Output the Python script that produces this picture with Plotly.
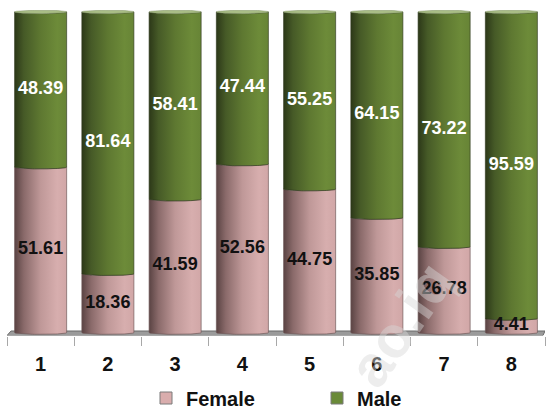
import numpy as np
import plotly.graph_objects as go

# Share of each sex (percent) for the eight groups
groups = ["1", "2", "3", "4", "5", "6", "7", "8"]
female = [51.61, 18.36, 41.59, 52.56, 44.75, 35.85, 26.78, 4.41]
male = [48.39, 81.64, 58.41, 47.44, 55.25, 64.15, 73.22, 95.59]

PINK_SCALE = [[0.0, "#5a4343"], [0.18, "#8a6a6a"], [0.5, "#bf9898"],
              [0.82, "#d7aeae"], [1.0, "#d1a7a7"]]
GREEN_SCALE = [[0.0, "#2c3818"], [0.18, "#465a27"], [0.5, "#5e7831"],
               [0.82, "#6d8b39"], [1.0, "#678436"]]
PINK_SOLID = "#d9adad"
GREEN_SOLID = "#6a8a38"

HALF = 0.387   # half width of a cylinder, in category units
EY = 0.55      # vertical radius of the cylinder rims, in percent units
theta = np.linspace(0, np.pi, 41)

fig = go.Figure()


def cylinder_slice(xc, y0, y1, scale, edge):
    """Front face of one slice of a cylinder between y0 and y1."""
    xt = xc - HALF * np.cos(theta)
    yt = y1 - EY * np.sin(theta)
    xb = xc + HALF * np.cos(theta)
    yb = y0 - EY * np.sin(theta)
    xs = np.concatenate([xt, xb, xt[:1]])
    ys = np.concatenate([yt, yb, yt[:1]])
    fig.add_trace(go.Scatter(
        x=xs, y=ys, mode="lines", fill="toself",
        fillgradient=dict(type="horizontal", colorscale=scale),
        line=dict(color=edge, width=0.8),
        hoverinfo="skip", showlegend=False))


def cylinder_cap(xc, y):
    t = np.linspace(0, 2 * np.pi, 81)
    fig.add_trace(go.Scatter(
        x=xc + HALF * np.cos(t), y=y + EY * np.sin(t), mode="lines",
        fill="toself", fillcolor="#a9bd86",
        line=dict(color="rgba(120,140,90,0.8)", width=0.6),
        hoverinfo="skip", showlegend=False))


xpos = list(range(len(groups)))
for i, (f, m) in enumerate(zip(female, male)):
    cylinder_slice(i, 0, f, PINK_SCALE, "rgba(110,88,88,0.85)")
    cylinder_slice(i, f, f + m, GREEN_SCALE, "rgba(45,55,28,0.8)")
    cylinder_cap(i, f + m)

# Value labels in the middle of each slice
fig.add_trace(go.Scatter(
    x=xpos, y=[f / 2 for f in female], mode="text",
    text=[f"{v:.2f}" for v in female],
    textfont=dict(family="Liberation Sans, Arial", size=18, color="#111111",
                  weight="bold"),
    hoverinfo="skip", showlegend=False))
fig.add_trace(go.Scatter(
    x=xpos, y=[f + m / 2 for f, m in zip(female, male)], mode="text",
    text=[f"{v:.2f}" for v in male],
    textfont=dict(family="Liberation Sans, Arial", size=18, color="white",
                  weight="bold"),
    hoverinfo="skip", showlegend=False))

# Legend entries
for name, col in (("Female", PINK_SOLID), ("Male", GREEN_SOLID)):
    fig.add_trace(go.Scatter(
        x=[None], y=[None], mode="markers", name=name,
        marker=dict(symbol="square", size=12, color=col,
                    line=dict(color="#7a7a7a", width=1))))

n = len(groups)
fig.update_layout(
    width=549, height=410,
    margin=dict(l=7, r=4, t=10, b=73),
    paper_bgcolor="white", plot_bgcolor="white",
    font=dict(family="Liberation Sans, Arial", color="#111111"),
    xaxis=dict(
        range=[-0.5, n - 0.5], tickvals=xpos, ticktext=groups,
        ticks="", showgrid=False, zeroline=False, showline=False,
        tickfont=dict(size=20, weight="bold", color="#111111"),
        ticklabelstandoff=14,
        minor=dict(tickvals=[k - 0.5 for k in range(n + 1)], ticks="outside",
                   ticklen=9, tickcolor="#a8a8a8", tickwidth=1,
                   showgrid=False),
        fixedrange=True),
    yaxis=dict(range=[-0.9, 100.6], visible=False, fixedrange=True),
    legend=dict(orientation="h", x=(146 - 7) / 538, xanchor="left",
                yref="container", y=1 - 398 / 410, yanchor="middle",
                font=dict(size=20, weight="bold", color="#111111"),
                entrywidth=126, itemwidth=30),
    shapes=[dict(
        type="path", xref="x", yref="y", layer="below",
        path=f"M -0.5,-0.9 L {n - 0.53},-0.9 L {n - 0.5},0.5 L -0.44,0.5 Z",
        fillcolor="#9b9b9b", line=dict(color="#6a6a6a", width=1))],
    annotations=[dict(
        text="ao.iq", xref="paper", yref="paper",
        x=(400 - 7) / 538, y=(337 - 326) / 327,
        xanchor="center", yanchor="middle", showarrow=False,
        textangle=-55, font=dict(size=58, weight="bold",
                                 color="rgba(214,214,214,0.45)"))],
)

fig.write_html("out.html")
